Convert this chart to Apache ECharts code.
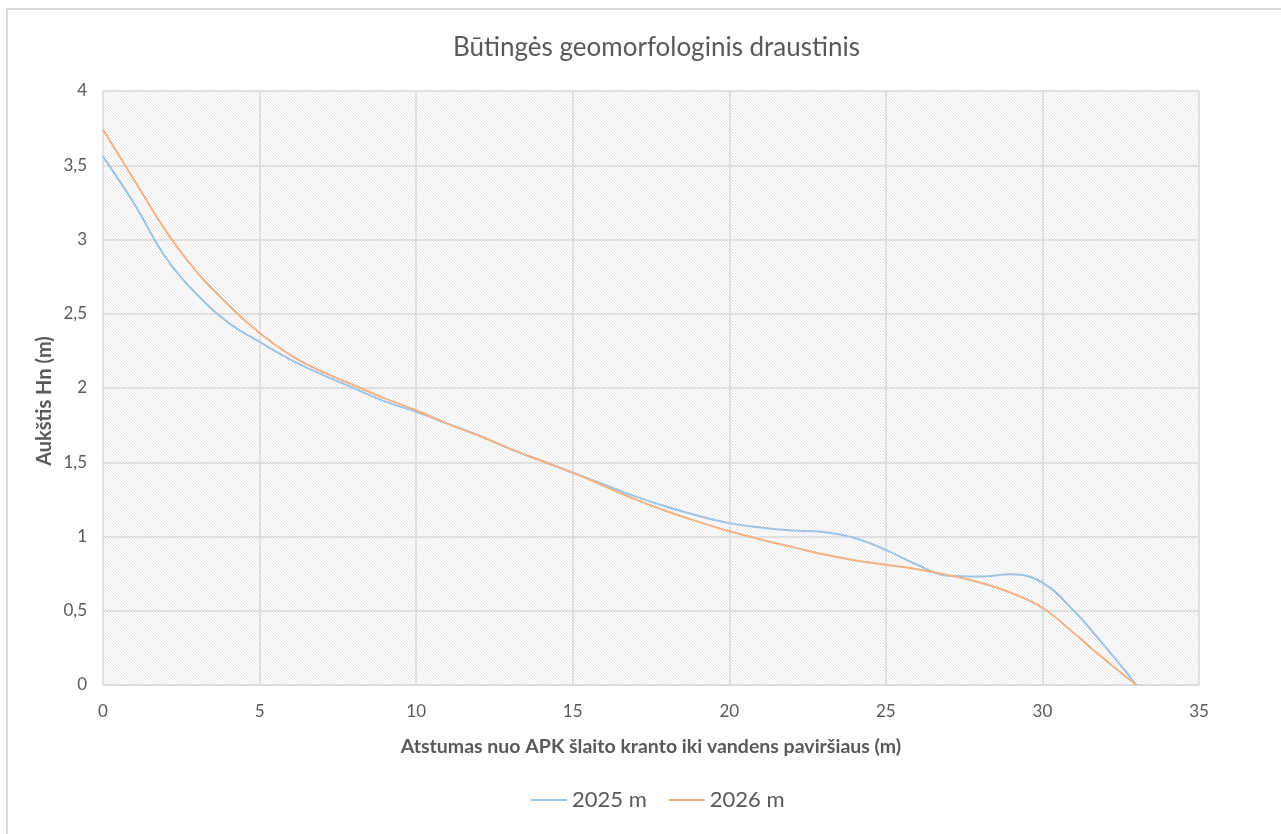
<!DOCTYPE html>
<html>
<head>
<meta charset="utf-8">
<script src="https://cdn.jsdelivr.net/npm/echarts@6/dist/echarts.min.js"></script>
<style>
html,body{margin:0;padding:0;background:#fff;}
#c{width:1281px;height:834px;}
</style>
</head>
<body>
<div id="c"></div>
<script>
const title = 'Būtingės geomorfologinis draustinis';
const xName = 'Atstumas nuo APK šlaito kranto iki vandens paviršiaus (m)';
const yName = 'Aukštis Hn (m)';
const seriesNames = ['2025 m', '2026 m'];
const distance = [0,1,2,3,4,5,6,7,8,9,10,11,12,13,14,15,16,17,18,19,20,21,22,23,24,25,26,27,28,29,30,31,32,33];
const h2025 = [3.56,3.24,2.88,2.63,2.44,2.31,2.19,2.09,2.00,1.91,1.84,1.76,1.68,1.59,1.51,1.43,1.35,1.27,1.20,1.14,1.09,1.06,1.04,1.03,0.99,0.91,0.81,0.735,0.73,0.745,0.69,0.50,0.26,0];
const h2026 = [3.74,3.40,3.06,2.78,2.56,2.37,2.22,2.11,2.02,1.93,1.85,1.76,1.68,1.59,1.51,1.43,1.34,1.25,1.17,1.10,1.035,0.98,0.93,0.88,0.84,0.81,0.78,0.74,0.69,0.62,0.52,0.35,0.17,0];

const pc = document.createElement('canvas');
pc.width = 3; pc.height = 3;
const g = pc.getContext('2d');
g.fillStyle = '#ffffff'; g.fillRect(0,0,3,3);
g.fillStyle = '#e4e4e4';
for (let i=0;i<3;i++){ g.fillRect(i,i,1,1); }

const font = 'Lato, "Open Sans", sans-serif';
const chart = echarts.init(document.getElementById('c'));
chart.setOption({
  animation: false,
  title: {
    text: title, left: 448, top: 30,
    textStyle: {fontFamily: font, fontSize: 26, fontWeight: 'normal', color: '#595959'}
  },
  legend: {
    bottom: 18, left: 526, itemWidth: 36, itemHeight: 2, itemGap: 22,
    icon: 'rect',
    textStyle: {fontFamily: font, fontSize: 22, color: '#595959'},
    data: seriesNames
  },
  graphic: [
    {type: 'rect', shape: {x: 7, y: 9, width: 1400, height: 1000}, style: {fill: 'none', stroke: '#d9d9d9', lineWidth: 2}, silent: true, z: -1},
    {type: 'text', x: 45, y: 401, rotation: Math.PI / 2,
     style: {text: yName, font: 'bold 20px ' + font, fill: '#595959', align: 'center', verticalAlign: 'middle'}}
  ],
  grid: {left: 103, right: 82, top: 91, bottom: 149, show: true, backgroundColor: {image: pc, repeat: 'repeat'}, borderWidth: 0},
  xAxis: {
    type: 'value', min: 0, max: 35, interval: 5,
    name: xName, nameLocation: 'middle', nameGap: 52,
    nameTextStyle: {fontFamily: font, fontSize: 19.5, fontWeight: 'bold', color: '#595959', verticalAlign: 'top'},
    axisLine: {show: true, lineStyle: {color: '#d9d9d9', width: 1.5}},
    axisTick: {show: false},
    splitLine: {show: true, lineStyle: {color: '#d9d9d9', width: 1.5}},
    axisLabel: {fontFamily: font, fontSize: 17, color: '#595959', margin: 18}
  },
  yAxis: {
    type: 'value', min: 0, max: 4, interval: 0.5,
    axisLine: {show: false},
    axisTick: {show: false},
    splitLine: {show: true, lineStyle: {color: '#d9d9d9', width: 1.5}},
    axisLabel: {fontFamily: font, fontSize: 17, color: '#595959', margin: 16,
      formatter: v => String(v).replace('.', ',')}
  },
  series: [
    {name: seriesNames[0], type: 'line', smooth: 0.4, showSymbol: false, symbol: 'none',
     data: distance.map((x,i)=>[x,h2025[i]]), lineStyle: {color: '#9dc3e6', width: 2}, itemStyle: {color: '#9dc3e6'}},
    {name: seriesNames[1], type: 'line', smooth: 0.4, showSymbol: false, symbol: 'none',
     data: distance.map((x,i)=>[x,h2026[i]]), lineStyle: {color: '#f4b183', width: 2}, itemStyle: {color: '#f4b183'}}
  ]
});
</script>
</body>
</html>
